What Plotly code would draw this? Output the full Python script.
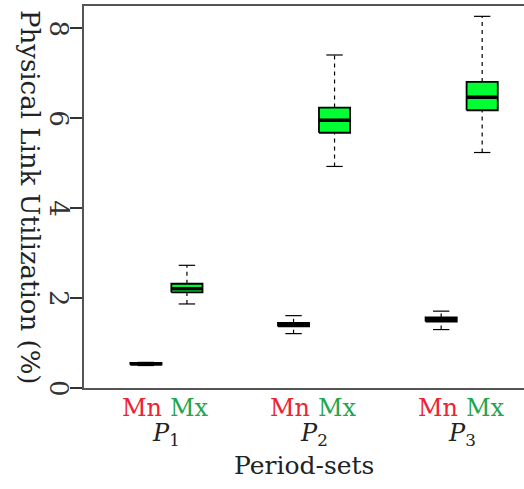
import plotly.graph_objects as go

# Box-plot statistics of physical link utilization (%) per period-set
groups = ["1", "2", "3"]
methods = ["Mn", "Mx"]
method_colors = {"Mn": "#EE2233", "Mx": "#1FA64F"}
box_fill = {"Mn": "#CC0000", "Mx": "#00FF33"}

lower_whisker = {"Mn": [0.50, 1.21, 1.30], "Mx": [1.87, 4.93, 5.24]}
q1 = {"Mn": [0.52, 1.37, 1.48], "Mx": [2.13, 5.68, 6.18]}
median = {"Mn": [0.54, 1.41, 1.53], "Mx": [2.21, 5.96, 6.47]}
q3 = {"Mn": [0.56, 1.45, 1.57], "Mx": [2.32, 6.24, 6.81]}
upper_whisker = {"Mn": [0.57, 1.61, 1.71], "Mx": [2.73, 7.41, 8.27]}

y_ticks = [0, 2, 4, 6, 8]

group_centers = [0.0, 3.6, 7.2]
offsets = {"Mn": -0.5, "Mx": 0.5}
half_box = 0.38
half_cap = 0.2

FONT = "DejaVu Serif"

fig = go.Figure()

for m in methods:
    for gi, c in enumerate(group_centers):
        x = c + offsets[m]
        lw, a, med, b, uw = (lower_whisker[m][gi], q1[m][gi], median[m][gi],
                             q3[m][gi], upper_whisker[m][gi])
        # dashed whiskers
        for y0, y1 in [(lw, a), (b, uw)]:
            fig.add_trace(go.Scatter(x=[x, x], y=[y0, y1], mode="lines",
                                     line=dict(color="black", width=1.2, dash="4px,4px"),
                                     hoverinfo="skip", showlegend=False))
        # whisker caps
        for yv in [lw, uw]:
            fig.add_trace(go.Scatter(x=[x - half_cap, x + half_cap], y=[yv, yv],
                                     mode="lines", line=dict(color="black", width=1.2),
                                     hoverinfo="skip", showlegend=False))
        # box
        fig.add_trace(go.Scatter(
            x=[x - half_box, x + half_box, x + half_box, x - half_box, x - half_box],
            y=[a, a, b, b, a], mode="lines", fill="toself",
            fillcolor=box_fill[m], line=dict(color="black", width=1.8),
            hoverinfo="skip", showlegend=False))
        # median
        fig.add_trace(go.Scatter(x=[x - half_box, x + half_box], y=[med, med],
                                 mode="lines", line=dict(color="black", width=3.5),
                                 hoverinfo="skip", showlegend=False))

annotations = []
# rotated y tick labels placed beside the tick marks
for v in y_ticks:
    annotations.append(dict(x=0, y=v, xref="paper", yref="y", text=str(v),
                            textangle=90, showarrow=False,
                            xanchor="center", yanchor="middle", xshift=-25,
                            font=dict(family=FONT, size=26, color="#333333")))

for gi, c in enumerate(group_centers):
    annotations.append(dict(x=c, y=0, xref="x", yref="paper", text="Mn",
                            showarrow=False, xanchor="right", yanchor="top",
                            xshift=-2, yshift=-4,
                            font=dict(family=FONT, size=24, color=method_colors["Mn"])))
    annotations.append(dict(x=c, y=0, xref="x", yref="paper", text="Mx",
                            showarrow=False, xanchor="left", yanchor="top",
                            xshift=2, yshift=-4,
                            font=dict(family=FONT, size=24, color=method_colors["Mx"])))
    annotations.append(dict(x=c, y=0, xref="x", yref="paper",
                            text="<i>P</i><sub>" + groups[gi] + "</sub>",
                            showarrow=False, xanchor="center", yanchor="top",
                            yshift=-29,
                            font=dict(family=FONT, size=24, color="#222222")))

annotations.append(dict(x=0.5, y=0, xref="paper", yref="paper", text="Period-sets",
                        showarrow=False, xanchor="center", yanchor="top", yshift=-61,
                        font=dict(family=FONT, size=25, color="#222222")))
annotations.append(dict(x=0, y=0.5, xref="paper", yref="paper",
                        text="Physical Link Utilization (%)", textangle=90,
                        showarrow=False, xanchor="center", yanchor="middle", xshift=-54,
                        font=dict(family=FONT, size=26, color="#222222")))

fig.update_layout(
    width=524, height=489,
    margin=dict(l=84, r=0, t=6, b=101),
    plot_bgcolor="white", paper_bgcolor="white",
    annotations=annotations,
    xaxis=dict(range=[-2.01, 8.72], showgrid=False, zeroline=False,
               showticklabels=False, ticks="",
               showline=True, linecolor="#555555", linewidth=1.5, mirror=True),
    yaxis=dict(range=[0, 8.5], tickvals=y_ticks, showticklabels=False,
               ticks="outside", ticklen=12, tickwidth=1.5,
               tickcolor="#333333", showgrid=False, zeroline=False,
               showline=True, linecolor="#555555", linewidth=1.5),
)

fig.write_html("out.html")
